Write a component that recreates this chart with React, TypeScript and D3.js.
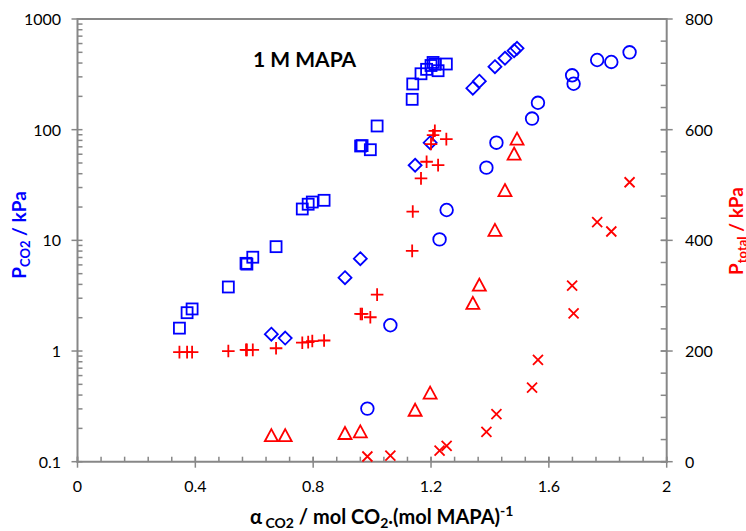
import React from "react";
import * as d3 from "d3";

// ---- data ----
// Series A: squares (P_CO2) and pluses (P_total) share loadings
const loadA = [0.346, 0.372, 0.389, 0.512, 0.572, 0.575, 0.595, 0.674, 0.763, 0.783, 0.797, 0.837, 0.961, 0.966, 0.994, 1.017, 1.136, 1.138, 1.166, 1.185, 1.2, 1.207, 1.213, 1.224, 1.252];
const pco2A = [1.61, 2.22, 2.4, 3.79, 6.2, 6.1, 7.04, 8.77, 19.2, 21.2, 22.2, 23.0, 71.2, 71.8, 65.9, 108, 188, 259, 320, 351, 380, 405, 390, 341, 392];
const ptotA = [198, 198, 198, 200, 202, 202, 202, 205, 215, 216, 218, 219, 267, 267, 261, 302, 381, 452, 512, 542, 574, 590, 598, 536, 583];
// Series B: diamonds (P_CO2) and triangles (P_total)
const loadB = [0.658, 0.705, 0.908, 0.96, 1.146, 1.197, 1.342, 1.364, 1.417, 1.451, 1.482, 1.492];
const pco2B = [1.42, 1.31, 4.6, 6.83, 47.7, 76.3, 237, 274, 371, 442, 517, 544];
const ptotB = [47, 47, 51, 54, 93, 124, 286, 319, 418, 490, 556, 583];
// Series C: circles (P_CO2) and crosses (P_total)
const loadC = [0.984, 1.062, 1.229, 1.253, 1.388, 1.422, 1.543, 1.563, 1.679, 1.684, 1.764, 1.812, 1.874];
const pco2C = [0.302, 1.71, 10.2, 18.8, 45.4, 76.3, 126, 175, 310, 260, 426, 409, 500];
const ptotC = [9.4, 10.8, 19.9, 28.4, 54, 86, 134, 184, 318, 268, 433, 416, 505];

const xTicks = [0, 0.4, 0.8, 1.2, 1.6, 2];
const xTickLabels = ["0", "0.4", "0.8", "1.2", "1.6", "2"];
const yLTicks = [0.1, 1, 10, 100, 1000];
const yLTickLabels = ["0.1", "1", "10", "100", "1000"];
const yRTicks = [0, 200, 400, 600, 800];
const yRTickLabels = ["0", "200", "400", "600", "800"];

const W = 746, H = 531;
const L = 77.5, R = 666.7, T = 19, B = 461.7;
const AX = "#878787";
const BLUE = "#0000FF";
const RED = "#FF0000";
const FONT = "Lato, 'Open Sans', sans-serif";

export default function App() {
  const x = d3.scaleLinear().domain([0, 2]).range([L, R]);
  const yL = d3.scaleLog().domain([0.1, 1000]).range([B, T]);
  const yR = d3.scaleLinear().domain([0, 800]).range([B, T]);

  const xMinor = d3.range(0, 2.0001, 0.08);
  const yLMinor: number[] = [];
  [0.1, 1, 10, 100].forEach((d) => { for (let k = 2; k <= 9; k++) yLMinor.push(d * k); });
  const yRMinor = d3.range(0, 800.001, 40);

  const sw = 1.8;
  const A = loadA.map((l, i) => ({ l, p: pco2A[i], t: ptotA[i] }));
  const Bs = loadB.map((l, i) => ({ l, p: pco2B[i], t: ptotB[i] }));
  const C = loadC.map((l, i) => ({ l, p: pco2C[i], t: ptotC[i] }));

  return (
    <svg width={W} height={H} style={{ position: "absolute", left: 0, top: 0, background: "#fff" }}>
      <rect x={0} y={0} width={W} height={H} fill="#fff" />
      {/* axes */}
      <line x1={L} x2={R} y1={T} y2={T} stroke={AX} strokeWidth={2} />
      <line x1={L} x2={L} y1={T - 1} y2={B + 1} stroke={AX} strokeWidth={2} />
      <line x1={R} x2={R} y1={T - 1} y2={B + 1} stroke={AX} strokeWidth={2} />
      <line x1={L - 1} x2={R + 1} y1={B} y2={B} stroke={AX} strokeWidth={2} />
      {/* x ticks */}
      {xMinor.map((d, i) => (
        <line key={"xm" + i} x1={x(d)} x2={x(d)} y1={B} y2={B - 5} stroke={AX} strokeWidth={1.5} />
      ))}
      {xTicks.map((d, i) => (
        <g key={"xt" + i}>
          <line x1={x(d)} x2={x(d)} y1={B - 5} y2={B + 6} stroke={AX} strokeWidth={1.5} />
          <text x={x(d)} y={492} textAnchor="middle" fontFamily={FONT} fontSize={16} fill="#000">{xTickLabels[i]}</text>
        </g>
      ))}
      {/* left y ticks */}
      {yLMinor.map((d, i) => (
        <line key={"ylm" + i} x1={L} x2={L + 5} y1={yL(d)} y2={yL(d)} stroke={AX} strokeWidth={1.5} />
      ))}
      {yLTicks.map((d, i) => (
        <g key={"ylt" + i}>
          <line x1={L - 6} x2={L + 5} y1={yL(d)} y2={yL(d)} stroke={AX} strokeWidth={1.5} />
          <text x={61} y={yL(d) + 6} textAnchor="end" fontFamily={FONT} fontSize={16} fill="#000">{yLTickLabels[i]}</text>
        </g>
      ))}
      {/* right y ticks */}
      {yRMinor.map((d, i) => (
        <line key={"yrm" + i} x1={R - 6} x2={R} y1={yR(d)} y2={yR(d)} stroke={AX} strokeWidth={1.5} />
      ))}
      {yRTicks.map((d, i) => (
        <g key={"yrt" + i}>
          <line x1={R - 6} x2={R + 6} y1={yR(d)} y2={yR(d)} stroke={AX} strokeWidth={1.5} />
          <text x={685} y={yR(d) + 6} textAnchor="start" fontFamily={FONT} fontSize={16} fill="#000">{yRTickLabels[i]}</text>
        </g>
      ))}

      {/* blue series */}
      {A.map((d, i) => (
        <rect key={"sq" + i} x={x(d.l) - 5.5} y={yL(d.p) - 5.5} width={11} height={11} fill="none" stroke={BLUE} strokeWidth={sw} />
      ))}
      {Bs.map((d, i) => {
        const cx = x(d.l), cy = yL(d.p), r = 6.5;
        return <path key={"dm" + i} d={`M${cx},${cy - r}L${cx + r},${cy}L${cx},${cy + r}L${cx - r},${cy}Z`} fill="none" stroke={BLUE} strokeWidth={sw} />;
      })}
      {C.map((d, i) => (
        <circle key={"ci" + i} cx={x(d.l)} cy={yL(d.p)} r={6.3} fill="none" stroke={BLUE} strokeWidth={sw} />
      ))}
      {/* red series */}
      {A.map((d, i) => {
        const cx = x(d.l), cy = yR(d.t), r = 6.3;
        return <path key={"pl" + i} d={`M${cx - r},${cy}H${cx + r}M${cx},${cy - r}V${cy + r}`} stroke={RED} strokeWidth={sw} fill="none" />;
      })}
      {Bs.map((d, i) => {
        const cx = x(d.l), cy = yR(d.t), h = 6.5;
        return <path key={"tr" + i} d={`M${cx},${cy - h}L${cx + h},${cy + h * 0.85}L${cx - h},${cy + h * 0.85}Z`} fill="none" stroke={RED} strokeWidth={sw} />;
      })}
      {C.map((d, i) => {
        const cx = x(d.l), cy = yR(d.t), r = 5;
        return <path key={"x" + i} d={`M${cx - r},${cy - r}L${cx + r},${cy + r}M${cx - r},${cy + r}L${cx + r},${cy - r}`} stroke={RED} strokeWidth={sw} fill="none" />;
      })}

      {/* title */}
      <text x={253} y={67} fontFamily={FONT} fontWeight="bold" fontSize={21} fill="#000">1 M MAPA</text>

      {/* x axis title */}
      <text x={250} y={524} fontFamily={FONT} fontWeight="bold" fontSize={20} fill="#000">
        <tspan>α</tspan>
        <tspan fontSize={14} dy={4}> CO2</tspan>
        <tspan dy={-4}> / mol CO</tspan>
        <tspan fontSize={14} dy={4}>2</tspan>
        <tspan dy={-4}>.(mol MAPA)</tspan>
        <tspan fontSize={14} dy={-8}>-1</tspan>
      </text>

      {/* left y title */}
      <text transform="translate(26,235) rotate(-90)" textAnchor="middle" fontFamily={FONT} fontWeight="bold" fontSize={19} fill={BLUE}>
        <tspan>P</tspan>
        <tspan fontSize={13} dy={4}>CO2</tspan>
        <tspan dy={-4}> / kPa</tspan>
      </text>

      {/* right y title */}
      <text transform="translate(743,231) rotate(-90)" textAnchor="middle" fontFamily={FONT} fontWeight="bold" fontSize={19} fill={RED}>
        <tspan>P</tspan>
        <tspan fontSize={13} dy={4}>total</tspan>
        <tspan dy={-4}> / kPa</tspan>
      </text>
    </svg>
  );
}
